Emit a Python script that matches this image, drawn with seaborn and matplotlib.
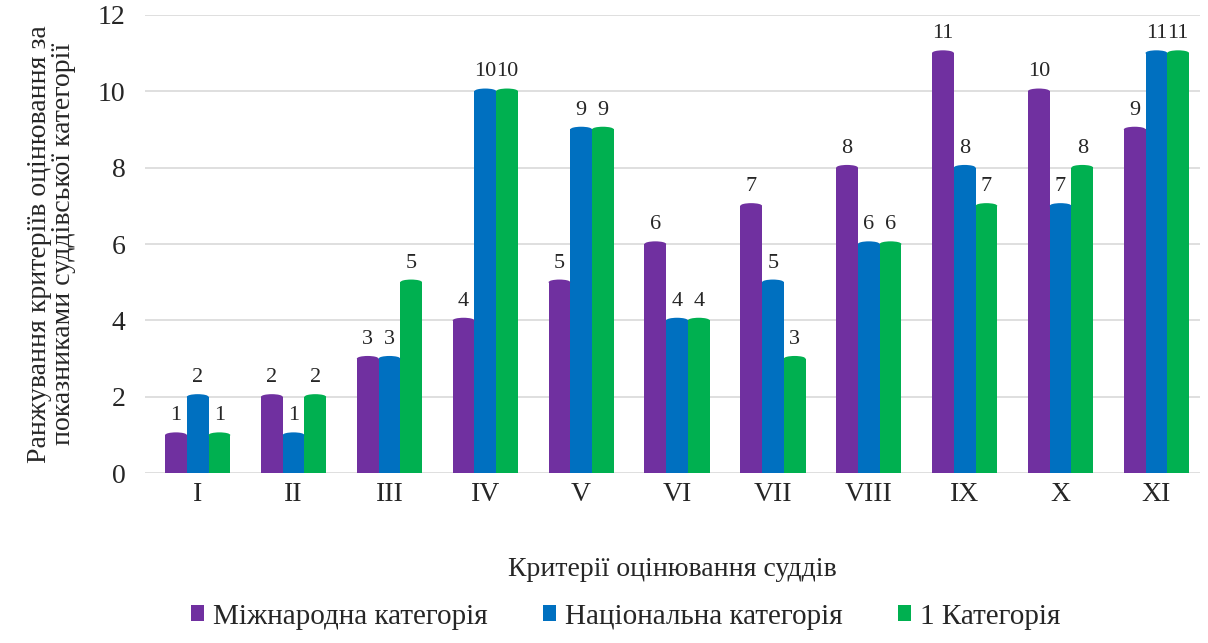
import matplotlib
matplotlib.use("Agg")
import matplotlib.pyplot as plt
from matplotlib.patches import Ellipse
import seaborn as sns
import pandas as pd

criteria = ["I", "II", "III", "IV", "V", "VI", "VII", "VIII", "IX", "X", "XI"]
series_names = ["Міжнародна категорія", "Національна категорія", "1 Категорія"]
intl = [1, 2, 3, 4, 5, 6, 7, 8, 11, 10, 9]
national = [2, 1, 3, 10, 9, 4, 5, 6, 8, 7, 11]
first_cat = [1, 2, 5, 10, 9, 4, 3, 6, 7, 8, 11]
colors = ["#7030A0", "#0070C0", "#00B050"]

rows = []
for name, vals in zip(series_names, [intl, national, first_cat]):
    for c, v in zip(criteria, vals):
        rows.append({"crit": c, "series": name, "rank": v})
df = pd.DataFrame(rows)

sns.set_style("white")
plt.rcParams["font.family"] = ["Liberation Serif", "DejaVu Serif"]

fig = plt.figure(figsize=(12.08, 6.43), dpi=100)
ax = fig.add_axes([0.12, 0.264, 0.873, 0.713])

sns.barplot(data=df, x="crit", y="rank", hue="series", palette=colors,
            width=0.68, ax=ax, legend=True, saturation=1, linewidth=0,
            edgecolor="none")

# rounded cylinder-like tops
for cont, col in zip(ax.containers, colors):
    for p in cont.patches:
        cx = p.get_x() + p.get_width() / 2
        ax.add_patch(Ellipse((cx, p.get_height()), p.get_width(), 0.14,
                             facecolor=col, edgecolor="none", zorder=p.get_zorder()))
    ax.bar_label(cont, padding=7, fontsize=16)

ax.set_ylim(0, 12)
ax.set_yticks(range(0, 13, 2))
ax.yaxis.grid(True, color="#d9d9d9", linewidth=1.2)
ax.set_axisbelow(True)
for s in ax.spines.values():
    s.set_visible(False)
ax.tick_params(axis="both", length=0, labelsize=20)
ax.tick_params(axis="y", pad=14)
ax.tick_params(axis="x", pad=6)
ax.set_xlim(-0.55, 10.45)
ax.set_xlabel("Критерії оцінювання суддів", fontsize=20, labelpad=36)
ax.set_ylabel("Ранжування критеріїв оцінювання за\nпоказниками суддівської категорії",
              fontsize=20, labelpad=16, linespacing=0.9)

h, l = ax.get_legend_handles_labels()
ax.legend_.remove()
fig.legend(h, l, loc="lower center", bbox_to_anchor=(0.518, -0.02), ncol=3,
           frameon=False, fontsize=21, handlelength=0.45, handleheight=0.45,
           handletextpad=0.3, columnspacing=1.9)

fig.savefig("out.png", dpi=100)
